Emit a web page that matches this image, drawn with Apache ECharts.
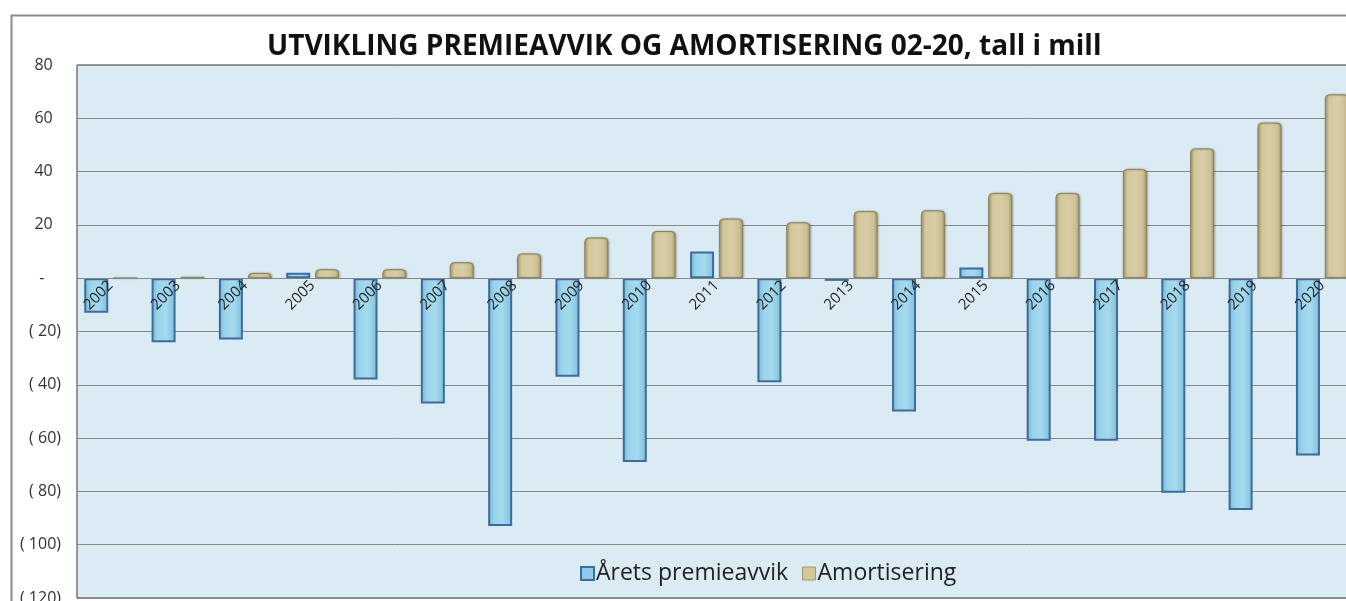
<!DOCTYPE html>
<html>
<head>
<meta charset="utf-8">
<title>Utvikling premieavvik og amortisering</title>
<script src="https://cdn.jsdelivr.net/npm/echarts@6/dist/echarts.min.js"></script>
<style>
  html, body { margin: 0; padding: 0; background: #fff; }
  #chart { width: 1346px; height: 601px; }
</style>
</head>
<body>
<div id="chart"></div>
<script>
// data (mill kr)
var years = ['2002', '2003', '2004', '2005', '2006', '2007', '2008', '2009', '2010', '2011',
  '2012', '2013', '2014', '2015', '2016', '2017', '2018', '2019', '2020']
var premieavvik = [-13, -24, -23, 2, -38, -47, -93, -37, -69, 10,
  -39, -1, -50, 4, -61, -61, -80.5, -87, -66.5]
var amortisering = [0, 0.5, 2, 3.4, 3.4, 6, 9.3, 15.3, 17.7, 22.4,
  21, 25.2, 25.5, 32, 32, 41, 48.7, 58.4, 69]
var seriesNames = ['Årets premieavvik', 'Amortisering']

var yMin = -120
var yMax = 80

var chart = echarts.init(document.getElementById('chart'))

// excel style accounting format: 80, -, ( 20)
function accounting (v) {
  if (v === 0) return '-    '
  if (v < 0) return '( ' + Math.abs(v) + ')'
  return v + '  '
}

var gridTop = 65
var gridBottom = 3
var plotH = 601 - gridTop - gridBottom
// move the category axis (and its labels) up to the zero line
var zeroOffset = -plotH * (0 - yMin) / (yMax - yMin)

var blueFill = new echarts.graphic.LinearGradient(0, 0, 1, 0, [
  { offset: 0, color: '#74b6d6' },
  { offset: 0.25, color: '#9ad3ea' },
  { offset: 0.6, color: '#a5daee' },
  { offset: 1, color: '#7dbedb' }
])
var goldFill = new echarts.graphic.LinearGradient(0, 0, 1, 0, [
  { offset: 0, color: '#b2a476' },
  { offset: 0.2, color: '#d3c79e' },
  { offset: 0.55, color: '#d8cda6' },
  { offset: 0.85, color: '#cbbf94' },
  { offset: 1, color: '#a59668' }
])

var option = {
  backgroundColor: '#ffffff',
  animation: false,
  title: {
    text: 'UTVIKLING PREMIEAVVIK OG AMORTISERING 02-20, tall i mill',
    left: 262,
    top: 28,
    textStyle: {
      fontFamily: 'Open Sans',
      fontWeight: 'bold',
      fontSize: 28,
      color: '#111'
    }
  },
  graphic: [{
    // outer chart frame
    type: 'rect',
    left: 9,
    top: 13,
    shape: { width: 1400, height: 620 },
    style: { fill: null, stroke: '#8a8a8a', lineWidth: 2 },
    z: 10
  }],
  legend: {
    left: 575,
    top: 557,
    itemGap: 14,
    textStyle: { fontFamily: 'Open Sans', fontSize: 23, color: '#222', padding: [0, 0, 0, -3] },
    data: [
      {
        name: seriesNames[0],
        icon: 'rect',
        itemStyle: { color: '#8fcbe6', borderColor: '#3e6b9d', borderWidth: 2 }
      },
      {
        name: seriesNames[1],
        icon: 'rect',
        itemStyle: { color: '#d3c79e', borderColor: '#a59668', borderWidth: 1 }
      }
    ],
    itemWidth: 13,
    itemHeight: 13
  },
  grid: {
    left: 77,
    top: gridTop,
    right: -10,
    bottom: gridBottom,
    outerBoundsMode: 'none',
    show: true,
    backgroundColor: '#dbebf3',
    borderColor: '#3a3a3a',
    borderWidth: 1
  },
  xAxis: {
    type: 'category',
    data: years,
    offset: zeroOffset,
    z: 10,
    axisLine: { show: true, onZero: false, lineStyle: { color: '#858585', width: 1 } },
    axisTick: { show: false },
    axisLabel: {
      rotate: 45,
      margin: 5,
      fontFamily: 'Open Sans',
      fontSize: 15,
      color: '#222'
    }
  },
  yAxis: {
    type: 'value',
    min: yMin,
    max: yMax,
    interval: 20,
    axisLine: { show: false },
    axisTick: { show: false },
    splitLine: { lineStyle: { color: '#858585', width: 1 } },
    axisLabel: {
      formatter: accounting,
      margin: 16,
      fontFamily: 'Open Sans',
      fontSize: 16,
      color: '#333'
    }
  },
  series: [
    {
      name: seriesNames[0],
      type: 'bar',
      data: premieavvik,
      barWidth: 24,
      barGap: '20%',
      itemStyle: { color: blueFill, borderColor: '#3e6b9d', borderWidth: 2 }
    },
    {
      name: seriesNames[1],
      type: 'bar',
      data: amortisering,
      barWidth: 24,
      itemStyle: {
        color: goldFill,
        borderColor: '#8f8158',
        borderWidth: 1,
        borderRadius: [4, 4, 0, 0],
        shadowColor: 'rgba(0,0,0,0.25)',
        shadowBlur: 2,
        shadowOffsetX: 1,
        shadowOffsetY: 0
      }
    }
  ]
}

chart.setOption(option)
window.addEventListener('resize', function () {
  chart.resize()
})
</script>
</body>
</html>
